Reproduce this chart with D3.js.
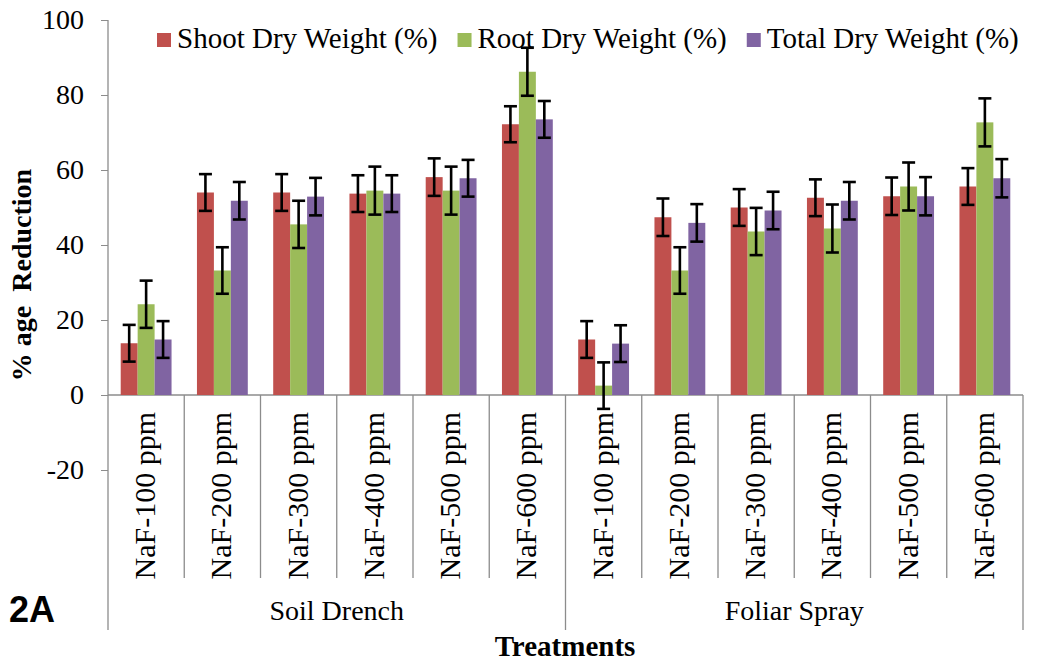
<!DOCTYPE html>
<html>
<head>
<meta charset="utf-8">
<script src="https://cdn.jsdelivr.net/npm/d3@7"></script>
<style>
  body { margin: 0; background: #fff; }
  svg text { font-family: "Liberation Serif", "Times New Roman", serif; fill: #000; }
</style>
</head>
<body>
<div id="main"></div>
<script>
/// data ///
const groups = ['Soil Drench', 'Foliar Spray'];
const doses = ['NaF-100 ppm', 'NaF-200 ppm', 'NaF-300 ppm', 'NaF-400 ppm', 'NaF-500 ppm', 'NaF-600 ppm'];
const series = ['Shoot Dry Weight (%)', 'Root Dry Weight (%)', 'Total Dry Weight (%)'];
const colors = ['#c0504d', '#9bbb59', '#8064a2'];

// values, soil drench first then foliar spray
const shoot = [13.8, 54.0, 54.0, 53.7, 58.1, 72.2, 14.8, 47.4, 50.0, 52.6, 53.0, 55.6];
const root  = [24.2, 33.2, 45.5, 54.5, 54.5, 86.2, 2.5, 33.2, 43.6, 44.4, 55.6, 72.7];
const total = [14.8, 51.8, 52.9, 53.7, 57.8, 73.5, 13.7, 45.9, 49.2, 51.8, 53.0, 57.8];

// error bars (+/-)
const shootErr = [4.9, 4.9, 4.9, 4.9, 5.0, 4.8, 4.9, 5.0, 4.9, 4.9, 5.0, 4.9];
const rootErr  = [6.3, 6.2, 6.3, 6.4, 6.4, 6.4, 6.2, 6.2, 6.3, 6.4, 6.4, 6.4];
const totalErr = [4.9, 5.0, 5.0, 4.9, 4.9, 4.9, 4.9, 5.0, 5.0, 5.0, 5.1, 5.1];

const yTicks = [-20, 0, 20, 40, 60, 80, 100];

const w = 1041;
const h = 663;

// build category keys + rows
const cats = [];
groups.forEach(g => doses.forEach(d => cats.push(g + '|' + d)));
const vals = [shoot, root, total];
const errs = [shootErr, rootErr, totalErr];
const rows = [];
cats.forEach((c, i) => {
    series.forEach((s, j) => rows.push({ cat: c, s: s, v: vals[j][i], e: errs[j][i], col: colors[j] }));
});

const svg = d3.select('#main')
            .append('svg')
            .attr('width', w)
            .attr('height', h);

// scales //
const x0 = d3.scaleBand()
            .domain(cats)
            .range([108, 1023]);

const x1 = d3.scaleBand()
            .domain(series)
            .range([0, x0.bandwidth()])
            .paddingInner(0)
            .paddingOuter(0.75);

const y = d3.scaleLinear()
            .domain([-20, 100])
            .range([470, 20]);

const gray = '#8c8c8c';
const labBottom = 578;   // bottom of dose label row
const grpBottom = 630;   // bottom of group label row

// y axis
const yAxis = d3.axisLeft(y)
                .tickValues(yTicks)
                .tickSize(7)
                .tickPadding(17)
                .tickFormat(d => String(d));   // plain hyphen for -20

const ga = svg.append('g')
            .attr('transform', 'translate(108,0)')
            .call(yAxis);
ga.attr('font-family', null).attr('font-size', null);
ga.select('.domain').remove();
ga.selectAll('.tick line').attr('stroke', gray);
ga.selectAll('.tick text')
    .style('font-size', '28px');

// axis lines
svg.append('line')
    .attr('x1', 108).attr('x2', 108)
    .attr('y1', y(100)).attr('y2', grpBottom)
    .attr('stroke', gray).attr('stroke-width', 1.3);

svg.append('line')
    .attr('x1', 108).attr('x2', 1023)
    .attr('y1', y(0)).attr('y2', y(0))
    .attr('stroke', gray).attr('stroke-width', 1.3);

// separators between doses and between groups
svg.append('g')
    .selectAll('line')
    .data(cats.slice(1).concat(['end']))
    .enter()
    .append('line')
    .attr('x1', d => d === 'end' ? 1023 : x0(d))
    .attr('x2', d => d === 'end' ? 1023 : x0(d))
    .attr('y1', y(0))
    .attr('y2', d => (d === 'end' || d.endsWith(doses[0])) ? grpBottom : labBottom)
    .attr('stroke', gray)
    .attr('stroke-width', 1.3);

// bars
svg.append('g')
    .selectAll('rect')
    .data(rows)
    .enter()
    .append('rect')
    .attr('x', d => x0(d.cat) + x1(d.s))
    .attr('width', x1.bandwidth())
    .attr('y', d => y(Math.max(0, d.v)))
    .attr('height', d => Math.abs(y(d.v) - y(0)))
    .attr('fill', d => d.col);

// error bars
const capW = 6.5;
const eb = svg.append('g')
            .selectAll('g')
            .data(rows)
            .enter()
            .append('g')
            .attr('stroke', '#000')
            .attr('stroke-width', 2.6);

eb.append('line')
    .attr('x1', d => x0(d.cat) + x1(d.s) + x1.bandwidth() / 2)
    .attr('x2', d => x0(d.cat) + x1(d.s) + x1.bandwidth() / 2)
    .attr('y1', d => y(d.v + d.e))
    .attr('y2', d => y(d.v - d.e));
eb.append('line')
    .attr('x1', d => x0(d.cat) + x1(d.s) + x1.bandwidth() / 2 - capW)
    .attr('x2', d => x0(d.cat) + x1(d.s) + x1.bandwidth() / 2 + capW)
    .attr('y1', d => y(d.v + d.e))
    .attr('y2', d => y(d.v + d.e));
eb.append('line')
    .attr('x1', d => x0(d.cat) + x1(d.s) + x1.bandwidth() / 2 - capW)
    .attr('x2', d => x0(d.cat) + x1(d.s) + x1.bandwidth() / 2 + capW)
    .attr('y1', d => y(d.v - d.e))
    .attr('y2', d => y(d.v - d.e));

// dose labels (rotated)
svg.append('g')
    .selectAll('text')
    .data(cats)
    .enter()
    .append('text')
    .attr('transform', d => `translate(${x0(d) + x0.bandwidth() / 2 + 9},412) rotate(-90)`)
    .attr('text-anchor', 'end')
    .style('font-size', '30px')
    .text(d => d.split('|')[1]);

// group labels
svg.append('g')
    .selectAll('text')
    .data(groups)
    .enter()
    .append('text')
    .attr('x', g => {
        const ks = cats.filter(c => c.startsWith(g + '|'));
        return (x0(ks[0]) + x0(ks[ks.length - 1]) + x0.bandwidth()) / 2;
    })
    .attr('y', 620)
    .attr('text-anchor', 'middle')
    .style('font-size', '28px')
    .text(g => g);

// axis titles
svg.append('text')
    .attr('x', 565)
    .attr('y', 656)
    .attr('text-anchor', 'middle')
    .style('font-size', '29px')
    .style('font-weight', 'bold')
    .text('Treatments');

svg.append('text')
    .attr('transform', 'translate(31,275) rotate(-90)')
    .attr('text-anchor', 'middle')
    .style('font-size', '28px')
    .style('font-weight', 'bold')
    .style('white-space', 'pre')
    .text('% age  Reduction');

// panel tag
svg.append('text')
    .attr('x', 9)
    .attr('y', 622)
    .style('font-family', '"Liberation Sans", Arial, sans-serif')
    .style('font-size', '36px')
    .style('font-weight', 'bold')
    .text('2A');

// legend
const lg = svg.append('g').attr('id', 'legend');
let lx = 157;
series.forEach((s, i) => {
    lg.append('rect')
        .attr('x', lx).attr('y', 33)
        .attr('width', 14).attr('height', 14)
        .attr('fill', colors[i]);
    const t = lg.append('text')
        .attr('x', lx + 20).attr('y', 48)
        .style('font-size', '29px')
        .text(s);
    lx += 20 + t.node().getComputedTextLength() + 20;
});
</script>
</body>
</html>
